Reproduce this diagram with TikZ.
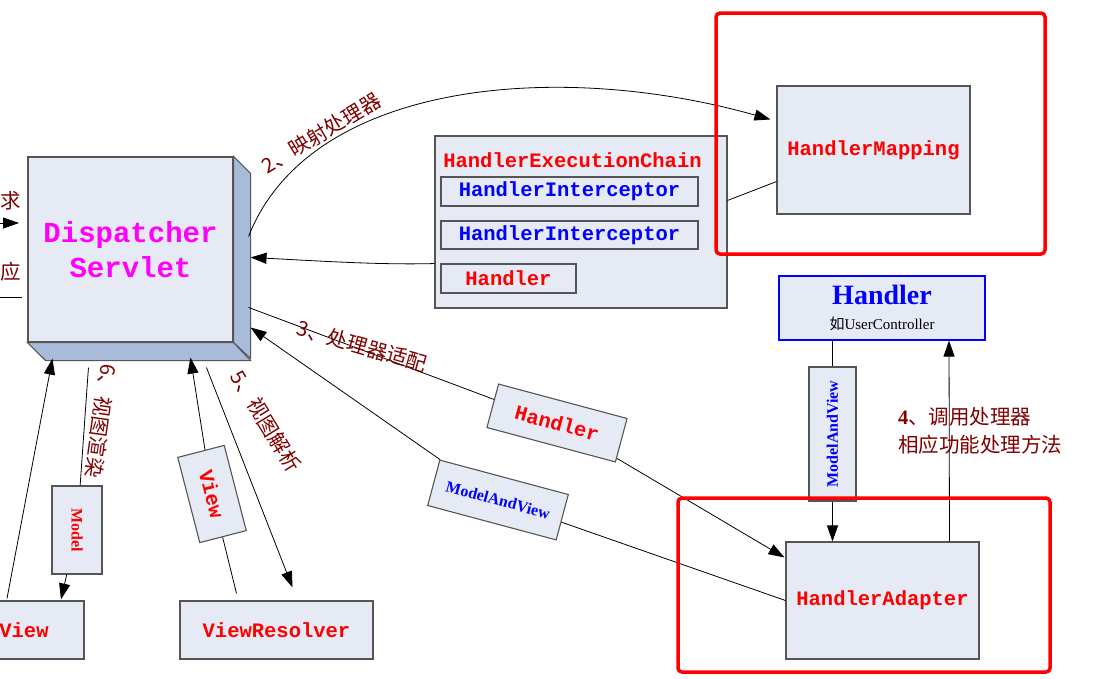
\documentclass[tikz,border=0pt]{standalone}
\usepackage{fontspec}
\setmainfont{Liberation Serif}
\setmonofont{Liberation Mono}
\newfontfamily\cjk{Noto Sans CJK SC}
\usetikzlibrary{arrows.meta,calc}

\definecolor{boxfill}{RGB}{230,234,245}
\definecolor{sidefill}{RGB}{168,187,219}
\definecolor{boxline}{RGB}{85,85,85}
\definecolor{lblred}{RGB}{128,0,0}
\definecolor{dispmag}{RGB}{255,0,255}

\begin{document}
\begin{tikzpicture}[
    x=1pt, y=-1pt,
    >={Triangle[length=16pt,width=11pt]},
    % boxes and texts
    box/.style={draw=boxline, line width=1.1pt, fill=boxfill, inner sep=0pt, align=center},
    code/.style={font=\fontsize{20.5}{24}\selectfont\ttfamily\bfseries},
    serifbold/.style={font=\fontsize{16}{18}\selectfont\rmfamily\bfseries},
    numlbl/.style={font=\fontsize{20.5}{28}\selectfont\cjk, text=lblred, inner sep=0pt},
    redframe/.style={draw=red, line width=3.5pt, rounded corners=4pt},
    flow/.style={->, line width=0.8pt},
    link/.style={line width=0.8pt}
  ]

  \useasboundingbox (0,0) rectangle (1093,678);

  % ---------------------------------------------------------
  % DISPATCHER SERVLET (3D box)
  % ---------------------------------------------------------
  \node[box, minimum width=205pt, minimum height=185pt] (disp) at (130.5,249.5) {};
  \filldraw[fill=sidefill, draw=boxline, line width=1.1pt]
    (disp.north east) -- ++(17,17) -- ++(0,185) -- (disp.south east) -- cycle;
  \filldraw[fill=sidefill, draw=boxline, line width=1.1pt]
    (disp.south west) -- (disp.south east) -- ++(17,18) -- ++(-205,0) -- cycle;
  \node[font=\fontsize{29}{35}\selectfont\ttfamily\bfseries, text=dispmag, align=center]
    (dispname) at (disp) {Dispatcher\\Servlet};

  % request / response at the left edge
  \node[numlbl] (req) at (11,201) {求};
  \node[numlbl] (resp) at (11,272) {应};
  \coordinate (reqin) at (0,223);
  \coordinate (reqend) at (19,223);
  \coordinate (respa) at (0,297);
  \coordinate (respb) at (22,297);
  \draw[flow] (reqin) -- (reqend);
  \draw[link] (respa) -- (respb);

  % ---------------------------------------------------------
  % HANDLER MAPPING AND EXECUTION CHAIN
  % ---------------------------------------------------------
  \node[box, code, text=red, minimum width=193pt, minimum height=128pt] (hm) at (873.5,150) {HandlerMapping};

  \node[box, minimum width=292pt, minimum height=172pt] (chain) at (581,222) {};
  \node[code, text=red, inner sep=0pt] (chaintitle) at (572.5,160) {HandlerExecutionChain};
  \node[box, code, text=blue, minimum width=257pt, minimum height=29pt] (hi1) at (569.5,191.5) {HandlerInterceptor};
  \node[box, code, text=blue, minimum width=257pt, minimum height=28pt] (hi2) at (569.5,235) {HandlerInterceptor};
  \node[box, code, text=red, minimum width=135pt, minimum height=29pt] (hch) at (508.5,278.5) {Handler};

  \draw[flow] ($(disp.north east)+(15,80)$) .. controls (310,80) and (560,60) .. ($(hm.north west)+(-6,34)$);
  \node[numlbl, rotate=31] (l2) at (321,133) {2、映射处理器};
  \draw[link] ($(hm.south west)+(0,-33)$) -- ($(chain.north east)+(0,65)$);
  \draw[flow] ($(chain.south west)+(0,-45)$) .. controls (380,265) and (320,261) .. ($(disp.north east)+(17,101)$);

  % ---------------------------------------------------------
  % HANDLER ADAPTER AND HANDLER
  % ---------------------------------------------------------
  \node[box, code, text=red, minimum width=193pt, minimum height=117pt] (ha) at (882.5,600.5) {HandlerAdapter};
  \node[box, draw=blue, minimum width=206pt, minimum height=64pt, font=\fontsize{15}{25}\selectfont]
    (hdl) at (882,308) {{\fontsize{28}{28}\selectfont\bfseries\color{blue}Handler}\\{\cjk 如}UserController};
  \node[box, serifbold, text=blue, rotate=90, minimum width=134pt, minimum height=47pt] (mav1) at (832.5,434) {ModelAndView};

  \draw[link] (mav1 |- hdl.south) -- (mav1);
  \draw[flow] (mav1) -- (mav1 |- ha.north);
  \draw[flow] ($(ha.north)+(67,0)$) -- ($(hdl.south)+(67,0)$);
  \node[numlbl, align=left, anchor=north west] (l4) at (898,407)
    {{\rmfamily\bfseries 4}、调用处理器\\相应功能处理方法};

  \node[box, code, text=red, rotate=-15, minimum width=133pt, minimum height=45pt] (hlab) at (557,423) {Handler};
  \node[box, serifbold, text=blue, rotate=-15, minimum width=133pt, minimum height=47pt] (mav2) at (498,500) {ModelAndView};

  \draw[link] ($(disp.north east)+(15,151)$) -- (hlab);
  \draw[flow] (hlab) -- ($(ha.north west)+(-1,16)$);
  \node[numlbl, rotate=-16] (l3) at (362,346) {3、处理器适配};
  \draw[link] (ha.west) -- (mav2);
  \draw[flow] (mav2) -- ($(disp.north east)+(17,171)$);

  % ---------------------------------------------------------
  % VIEW RESOLVER AND VIEW
  % ---------------------------------------------------------
  \node[box, code, text=red, minimum width=120pt, minimum height=58pt] (view) at (24,630) {View};
  \node[box, font=\fontsize{16}{18}\selectfont\rmfamily\bfseries, text=red, rotate=-90,
    minimum width=88pt, minimum height=50pt] (model) at (77,530) {Model};
  \node[box, code, text=red, rotate=-75.5, minimum width=88pt, minimum height=48pt] (vlab) at (212,494) {View};
  \node[box, code, text=red, minimum width=193pt, minimum height=58pt] (vr) at (276.5,630) {ViewResolver};

  \draw[flow] ($(disp.south west)+(179,25)$) -- ($(vr.north)+(16,-13)$);
  \node[numlbl, rotate=-58.5] (l5) at (266,421) {5、视图解析};
  \draw[link] ($(vr.north)+(-40,-7)$) -- (vlab);
  \draw[flow] (vlab) -- ($(disp.south west)+(163,15)$);

  \draw[link] ($(disp.south west)+(61,25)$) -- (model);
  \draw[flow] (model) -- ($(view.north)+(37,-1)$);
  \node[numlbl, rotate=-98] (l6) at (101,421) {6、视图渲染};
  \draw[flow] ($(view.north)+(-17,-2)$) -- ($(disp.south west)+(25,16)$);

  % ---------------------------------------------------------
  % RED HIGHLIGHT FRAMES
  % ---------------------------------------------------------
  \draw[redframe] (716,13) rectangle (1045,254);
  \draw[redframe] (678,498) rectangle (1050,672);

\end{tikzpicture}
\end{document}
